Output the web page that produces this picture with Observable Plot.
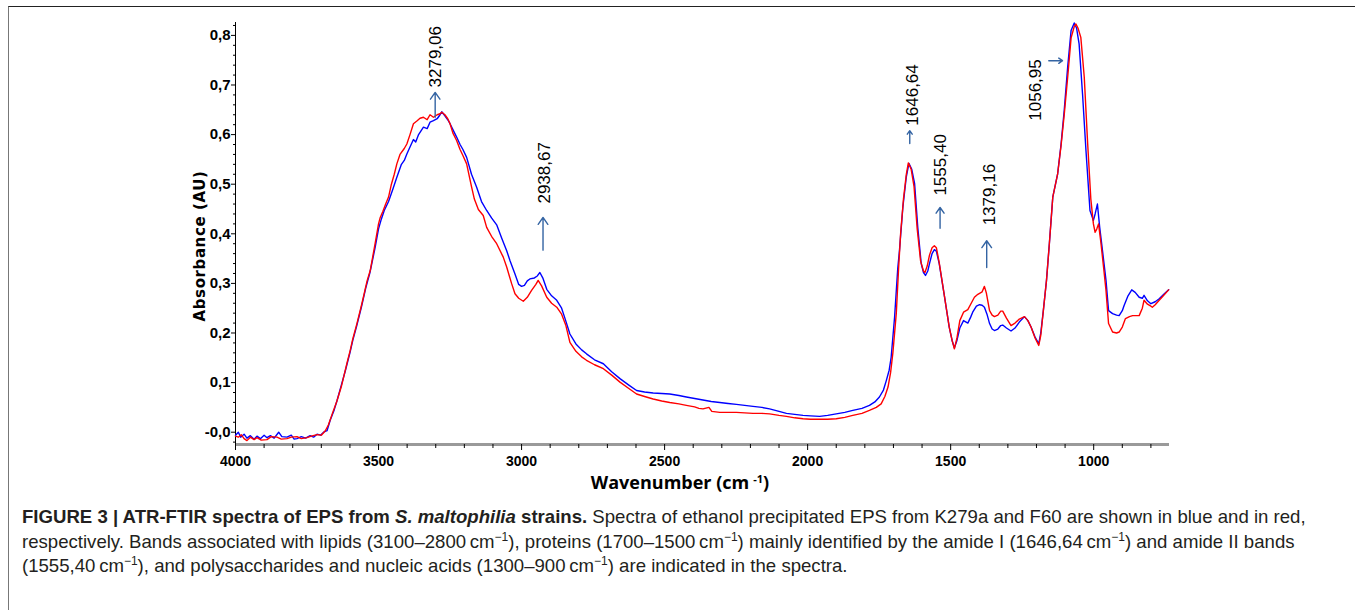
<!DOCTYPE html>
<html><head><meta charset="utf-8">
<script src="https://cdn.jsdelivr.net/npm/d3@7"></script>
<script src="https://cdn.jsdelivr.net/npm/@observablehq/plot@0.6"></script>
<style>
html,body{margin:0;padding:0;background:#fff;}
body{width:1355px;height:610px;overflow:hidden;position:relative;font-family:"Liberation Sans",Arial,sans-serif;}
#frame{position:absolute;left:8px;top:6px;width:1360px;height:620px;border-left:1px solid #777;border-top:1px solid #222;box-sizing:border-box;}
#chart{position:absolute;left:0;top:0;}
#ylab{position:absolute;left:200px;top:246px;transform:translate(-50%,-50%) rotate(-90deg);font-family:"DejaVu Sans",Verdana,sans-serif;font-weight:bold;font-size:15px;letter-spacing:0.6px;white-space:nowrap;color:#000;}
#xlab{position:absolute;left:680px;top:482px;transform:translate(-50%,-50%);font-family:"Open Sans",sans-serif;font-weight:bold;font-size:18px;white-space:nowrap;color:#000;}
#xlab sup{font-size:11px;vertical-align:6px;margin-left:4px;}
#caption{position:absolute;left:22px;top:505px;font-size:18.6px;line-height:24.5px;color:#231f20;white-space:nowrap;}
#caption sup{font-size:12px;line-height:0;vertical-align:7px;}
</style>
</head><body>
<div id="frame"></div>
<div id="chart"></div>
<div id="ylab">Absorbance (AU)</div>
<div id="xlab">Wavenumber (cm<sup>-1</sup>)</div>
<div id="caption"><b>FIGURE 3 | ATR-FTIR spectra of EPS from <i>S. maltophilia</i> strains.</b> Spectra of ethanol precipitated EPS from K279a and F60 are shown in blue and in red,<br>respectively. Bands associated with lipids (3100–2800&#8201;cm<sup>−1</sup>), proteins (1700–1500&#8201;cm<sup>−1</sup>) mainly identified by the amide I (1646,64&#8201;cm<sup>−1</sup>) and amide II bands<br>(1555,40&#8201;cm<sup>−1</sup>), and polysaccharides and nucleic acids (1300–900&#8201;cm<sup>−1</sup>) are indicated in the spectra.</div>
<script>
// ---- Data ----
const blueWn = [4000,3990,3982,3970,3960,3948,3935,3925,3913,3900,3890,3878,3865,3849,3838,3820,3805,3795,3785,3770,3755,3739,3727,3715,3703,3692,3680,3669,3655,3645,3630,3616,3600,3590,3576,3560,3545,3530,3512,3500,3490,3480,3465,3450,3436,3420,3410,3401,3390,3378,3370,3360,3343,3330,3320,3308,3295,3285,3279,3268,3258,3250,3240,3227,3215,3205,3192,3175,3157,3140,3122,3105,3087,3070,3052,3040,3023,3010,3000,2990,2980,2971,2955,2945,2936,2925,2912,2895,2877,2860,2848,2831,2810,2790,2773,2745,2714,2685,2656,2625,2598,2570,2540,2510,2482,2450,2424,2395,2366,2337,2307,2278,2249,2220,2191,2160,2133,2100,2074,2045,2016,1990,1958,1930,1900,1870,1842,1810,1784,1765,1749,1735,1725,1715,1708,1696,1685,1679,1667,1655,1646,1636,1626,1615,1603,1595,1588,1580,1574,1565,1557,1550,1540,1523,1505,1495,1487,1478,1468,1455,1440,1430,1423,1410,1399,1390,1382,1373,1364,1355,1347,1335,1325,1318,1305,1289,1275,1260,1242,1230,1219,1205,1192,1185,1176,1165,1155,1143,1126,1114,1103,1091,1079,1068,1060,1051,1039,1027,1013,1001,995,987,979,968,957,948,934,920,911,900,894,880,867,855,841,830,824,812,800,785,771,755,738];
const blueAbs = [-0.006,0.000,-0.010,-0.004,-0.012,-0.007,-0.014,-0.008,-0.013,-0.006,-0.011,-0.007,-0.012,0.000,-0.009,-0.010,-0.006,-0.014,-0.013,-0.009,-0.012,-0.007,-0.010,-0.004,-0.006,0.000,0.003,0.024,0.045,0.064,0.095,0.124,0.160,0.185,0.215,0.252,0.290,0.322,0.372,0.410,0.430,0.447,0.465,0.490,0.514,0.540,0.548,0.561,0.575,0.590,0.585,0.600,0.615,0.612,0.625,0.628,0.632,0.640,0.646,0.638,0.630,0.622,0.610,0.595,0.580,0.570,0.554,0.520,0.494,0.465,0.447,0.432,0.418,0.392,0.366,0.345,0.319,0.298,0.294,0.296,0.305,0.309,0.311,0.315,0.322,0.310,0.288,0.275,0.266,0.250,0.229,0.198,0.178,0.166,0.158,0.146,0.138,0.122,0.108,0.095,0.084,0.081,0.079,0.078,0.077,0.074,0.071,0.068,0.065,0.062,0.060,0.058,0.056,0.054,0.052,0.050,0.047,0.042,0.038,0.036,0.034,0.033,0.032,0.034,0.037,0.040,0.044,0.048,0.054,0.061,0.071,0.085,0.104,0.125,0.151,0.232,0.330,0.366,0.454,0.515,0.542,0.530,0.501,0.413,0.340,0.322,0.316,0.325,0.340,0.360,0.368,0.365,0.340,0.279,0.212,0.185,0.170,0.185,0.210,0.225,0.220,0.232,0.242,0.254,0.257,0.256,0.252,0.238,0.219,0.208,0.205,0.208,0.215,0.216,0.210,0.204,0.210,0.222,0.233,0.225,0.212,0.192,0.178,0.200,0.245,0.306,0.380,0.474,0.521,0.581,0.649,0.736,0.810,0.825,0.815,0.783,0.682,0.568,0.447,0.427,0.440,0.460,0.413,0.360,0.306,0.245,0.239,0.236,0.235,0.245,0.255,0.275,0.287,0.282,0.272,0.270,0.276,0.265,0.259,0.263,0.269,0.278,0.287];
const redWn = [4000,3990,3980,3970,3960,3948,3935,3925,3910,3890,3875,3855,3840,3820,3805,3785,3770,3750,3735,3715,3700,3686,3675,3660,3646,3630,3622,3610,3599,3590,3576,3560,3553,3540,3529,3512,3500,3494,3485,3475,3465,3455,3445,3436,3425,3410,3401,3390,3378,3365,3355,3343,3330,3320,3308,3295,3285,3279,3268,3258,3250,3240,3227,3215,3205,3192,3175,3165,3151,3134,3122,3105,3087,3064,3052,3035,3023,3010,2994,2980,2965,2950,2942,2930,2912,2895,2877,2860,2845,2831,2810,2790,2773,2745,2714,2685,2656,2625,2598,2570,2540,2510,2482,2450,2424,2395,2380,2366,2345,2335,2307,2278,2249,2220,2191,2160,2133,2100,2074,2045,2016,1990,1958,1930,1900,1870,1842,1810,1784,1760,1743,1730,1719,1710,1702,1690,1682,1675,1665,1655,1648,1638,1628,1617,1605,1595,1590,1582,1574,1565,1557,1550,1540,1523,1505,1495,1487,1478,1468,1455,1440,1430,1417,1405,1399,1390,1382,1375,1364,1355,1347,1335,1325,1318,1305,1289,1275,1260,1242,1230,1219,1205,1192,1185,1176,1165,1155,1143,1126,1114,1103,1091,1079,1068,1062,1055,1045,1033,1021,1010,1001,995,989,983,975,965,957,948,934,920,911,900,889,875,864,850,841,830,824,812,800,795,785,771,755,738];
const redAbs = [-0.008,-0.010,-0.005,-0.013,-0.017,-0.010,-0.015,-0.011,-0.016,-0.015,-0.009,-0.010,-0.014,-0.013,-0.010,-0.009,-0.013,-0.011,-0.008,-0.005,-0.006,0.003,0.015,0.040,0.062,0.092,0.111,0.140,0.165,0.188,0.218,0.255,0.272,0.305,0.326,0.380,0.420,0.433,0.445,0.460,0.474,0.500,0.520,0.541,0.560,0.572,0.581,0.600,0.622,0.628,0.633,0.635,0.630,0.640,0.635,0.640,0.642,0.645,0.640,0.632,0.622,0.603,0.588,0.570,0.558,0.541,0.495,0.470,0.449,0.437,0.413,0.395,0.380,0.353,0.333,0.300,0.279,0.270,0.264,0.272,0.286,0.298,0.306,0.295,0.272,0.260,0.252,0.238,0.215,0.181,0.163,0.152,0.145,0.136,0.128,0.115,0.101,0.088,0.077,0.072,0.067,0.063,0.060,0.057,0.054,0.051,0.048,0.047,0.050,0.042,0.040,0.040,0.040,0.039,0.038,0.038,0.037,0.034,0.032,0.029,0.027,0.026,0.026,0.026,0.027,0.030,0.034,0.038,0.044,0.050,0.057,0.072,0.091,0.120,0.160,0.240,0.330,0.400,0.470,0.520,0.543,0.530,0.495,0.410,0.345,0.325,0.322,0.335,0.357,0.372,0.376,0.372,0.342,0.279,0.212,0.185,0.168,0.190,0.225,0.242,0.247,0.258,0.272,0.278,0.280,0.283,0.294,0.280,0.245,0.236,0.233,0.236,0.244,0.244,0.230,0.215,0.220,0.228,0.233,0.225,0.212,0.190,0.175,0.195,0.245,0.306,0.380,0.474,0.521,0.578,0.640,0.715,0.795,0.818,0.823,0.815,0.796,0.716,0.581,0.470,0.420,0.403,0.410,0.420,0.383,0.330,0.286,0.219,0.202,0.200,0.202,0.212,0.229,0.233,0.235,0.235,0.235,0.250,0.266,0.258,0.254,0.252,0.257,0.266,0.276,0.287];

// axis ticks
const xTicks = [4000,3500,3000,2500,2000,1500,1000];
const xMinorTicks = [3900,3800,3700,3600,3400,3300,3200,3100,2900,2800,2700,2600,2400,2300,2200,2100,1900,1800,1700,1600,1400,1300,1200,1100,900,800];
const yTicks = [0,0.1,0.2,0.3,0.4,0.5,0.6,0.7,0.8];
const yTickLabels = ["-0,0","0,1","0,2","0,3","0,4","0,5","0,6","0,7","0,8"];
const yMinorTicks = [-0.02,0.02,0.04,0.06,0.08,0.12,0.14,0.16,0.18,0.22,0.24,0.26,0.28,0.32,0.34,0.36,0.38,0.42,0.44,0.46,0.48,0.52,0.54,0.56,0.58,0.62,0.64,0.66,0.68,0.72,0.74,0.76,0.78,0.82];

// peak annotations
const peakLabels = ["3279,06","2938,67","1646,64","1555,40","1379,16","1056,95"];
const peakTextWn = [3302,2921,1633,1535,1365,1205];
const peakTextAbs = [0.695,0.461,0.618,0.477,0.417,0.628];
const arrowWnFrom = [3302,2925,1643,1537,1374,1157];
const arrowAbsFrom = [0.635,0.367,0.582,0.411,0.332,0.749];
const arrowWnTo = [3302,2925,1643,1537,1374,1109];
const arrowAbsTo = [0.685,0.433,0.608,0.453,0.386,0.749];

const xDomain = [4000, 735];
const yDomain = [-0.0248, 0.826];

const blue = blueWn.map((w,i)=>({w, a: blueAbs[i]}));
const red = redWn.map((w,i)=>({w, a: redAbs[i]}));
const labels = peakLabels.map((t,i)=>({t, w: peakTextWn[i], a: peakTextAbs[i]}));
const arrows = peakLabels.map((t,i)=>({w1: arrowWnFrom[i], a1: arrowAbsFrom[i], w2: arrowWnTo[i], a2: arrowAbsTo[i]}));

const tickFont = {fontFamily: "'Liberation Sans Narrow','Arial Narrow',sans-serif", fontWeight: "bold"};

const chart = Plot.plot({
  width: 1355, height: 500,
  marginLeft: 235, marginRight: 186, marginTop: 22, marginBottom: 56,
  x: {domain: xDomain, label: null},
  y: {domain: yDomain, label: null},
  style: {background: "transparent", color: "#000"},
  marks: [
    Plot.ruleY([yDomain[0]], {stroke: "#9a9a9a", strokeWidth: 3}),
    Plot.ruleX([xDomain[0]], {stroke: "#000", strokeWidth: 1}),
    Plot.axisY(yTicks, {tickSize: 4, tickPadding: 1, tickFormat: d => yTickLabels[yTicks.indexOf(d)], fontSize: 15, ...tickFont}),
    Plot.axisY(yMinorTicks, {tickSize: 2, tickFormat: () => ""}),
    Plot.axisX(xTicks, {tickSize: 6, tickPadding: 6, tickFormat: d => String(d), fontSize: 14, ...tickFont}),
    Plot.axisX(xMinorTicks, {tickSize: 4, tickFormat: () => ""}),
    Plot.line(blue, {x: "w", y: "a", stroke: "#0000ff", strokeWidth: 1.4}),
    Plot.line(red, {x: "w", y: "a", stroke: "#ff0000", strokeWidth: 1.4}),
    Plot.arrow(arrows, {x1: "w1", y1: "a1", x2: "w2", y2: "a2", stroke: "#3464a3", strokeWidth: 1.4, headLength: 9, headAngle: 70}),
    Plot.text(labels, {x: "w", y: "a", text: "t", rotate: -90, textAnchor: "start", lineAnchor: "middle", fontSize: 17, fontFamily: "'Liberation Sans',Arial,sans-serif", fill: "#000"})
  ]
});
document.getElementById("chart").appendChild(chart);
</script>
</body></html>
